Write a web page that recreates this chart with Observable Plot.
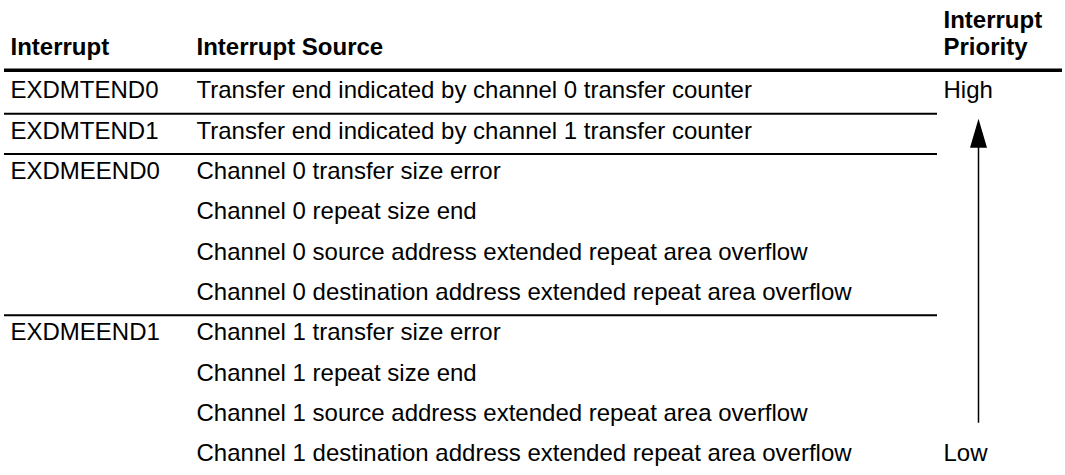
<!DOCTYPE html>
<html>
<head>
<meta charset="utf-8">
<script src="https://cdn.jsdelivr.net/npm/d3@7"></script>
<script src="https://cdn.jsdelivr.net/npm/@observablehq/plot@0.6"></script>
<style>
  html, body { margin: 0; padding: 0; background: #fff; }
</style>
</head>
<body>
<div id="chart"></div>
<script>
// ---- data ----
const headers = ["Interrupt", "Interrupt Source", "Interrupt\nPriority"];
const interrupts = ["EXDMTEND0", "EXDMTEND1", "EXDMEEND0", "EXDMEEND1"];
const sourcesTEND0 = ["Transfer end indicated by channel 0 transfer counter"];
const sourcesTEND1 = ["Transfer end indicated by channel 1 transfer counter"];
const sourcesEEND0 = [
  "Channel 0 transfer size error",
  "Channel 0 repeat size end",
  "Channel 0 source address extended repeat area overflow",
  "Channel 0 destination address extended repeat area overflow"
];
const sourcesEEND1 = [
  "Channel 1 transfer size error",
  "Channel 1 repeat size end",
  "Channel 1 source address extended repeat area overflow",
  "Channel 1 destination address extended repeat area overflow"
];
const priorityLabels = ["High", "Low"];

// ---- table built from the arrays ----
const sourceGroups = [sourcesTEND0, sourcesTEND1, sourcesEEND0, sourcesEEND1];
const rows = [];
const groupEnds = [];
sourceGroups.forEach((srcs, g) => {
  srcs.forEach((s, j) => rows.push({row: rows.length, interrupt: j === 0 ? interrupts[g] : "", source: s}));
  groupEnds.push(rows.length - 1);
});
const lastRow = rows.length - 1;
const separators = groupEnds.slice(0, -1).map(r => r + 0.5);
const priority = [{label: priorityLabels[0], row: 0}, {label: priorityLabels[1], row: lastRow}];
const arrow = [{from: 0, to: lastRow}];

// ---- layout (positions / styles only) ----
const W = 1065, H = 475;
const colX = {interrupt: 10, source: 196, priority: 943, arrow: 978};
const headerX = [colX.interrupt, colX.source, colX.priority];
const headerRow = -0.87;
const font = "'Liberation Sans', Arial, Helvetica, sans-serif";
const fs = 24;
const headSymbol = {
  draw(context) {
    context.moveTo(0, -29);
    context.lineTo(8.5, 0);
    context.lineTo(-8.5, 0);
    context.closePath();
  }
};

const chart = Plot.plot({
  width: W,
  height: H,
  margin: 0,
  style: {fontFamily: font, fontSize: fs + "px", background: "#fff", color: "#000"},
  x: {type: "identity", axis: null},
  y: {type: "linear", domain: [0, lastRow], range: [90, 453], axis: null},
  marks: [
    Plot.text(headers, {
      x: (d, i) => headerX[i], y: () => headerRow, text: d => d,
      textAnchor: "start", lineAnchor: "bottom", lineHeight: 1.15,
      fontWeight: "bold", fontSize: fs
    }),
    Plot.ruleY([-0.5], {x1: 4, x2: 1062, strokeWidth: 3.5, stroke: "#000"}),
    Plot.ruleY(separators, {x1: 4, x2: 937, strokeWidth: 2, stroke: "#000", dy: 3}),
    Plot.text(rows, {x: () => colX.interrupt, y: "row", text: "interrupt", textAnchor: "start", lineAnchor: "middle", fontSize: fs}),
    Plot.text(rows, {x: () => colX.source, y: "row", text: "source", textAnchor: "start", lineAnchor: "middle", fontSize: fs}),
    Plot.text(priority, {x: () => colX.priority, y: "row", text: "label", textAnchor: "start", lineAnchor: "middle", fontSize: fs}),
    Plot.ruleX(arrow, {x: () => colX.arrow, y1: d => d.to - 0.75, y2: d => d.from + 1.4, strokeWidth: 1.5, stroke: "#000"}),
    Plot.dot(arrow, {x: () => colX.arrow, y: d => d.from + 1.42, symbol: headSymbol, fill: "#000", stroke: "none"})
  ]
});
document.getElementById("chart").appendChild(chart);
</script>
</body>
</html>
